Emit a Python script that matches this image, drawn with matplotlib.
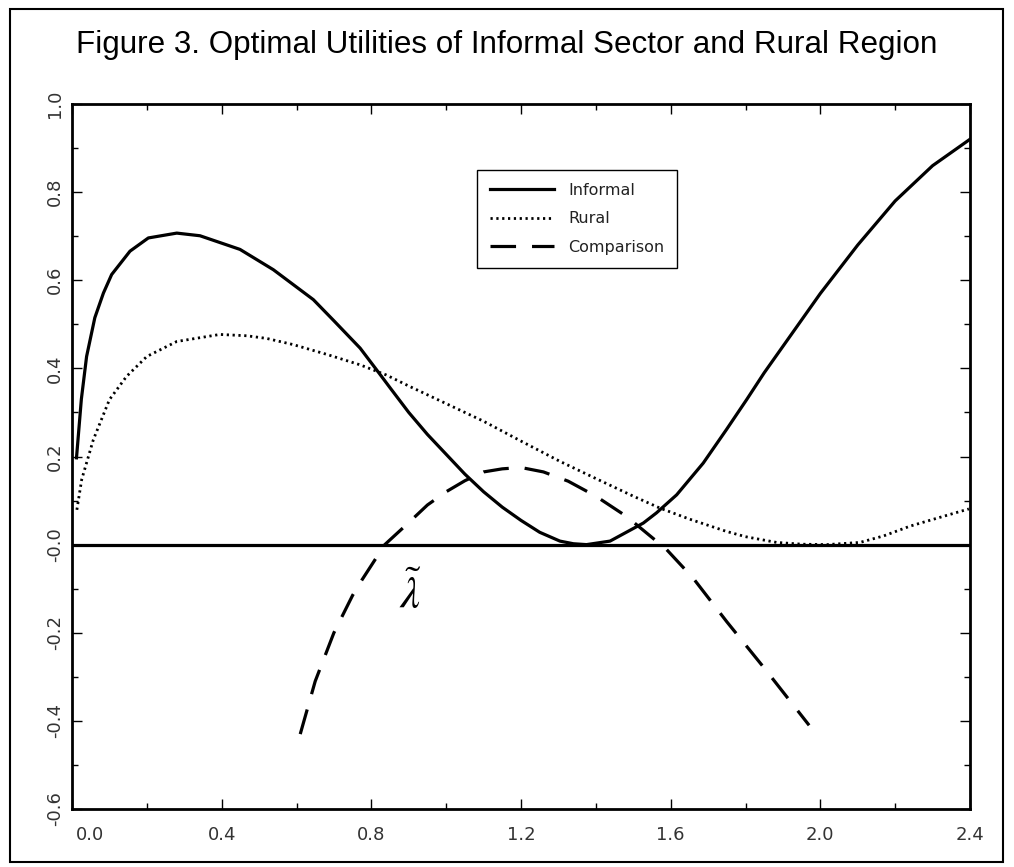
import numpy as np
import matplotlib
matplotlib.use('Agg')
import matplotlib.pyplot as plt
import matplotlib.transforms as mtransforms
from matplotlib.patches import Rectangle

# values
informal_x = [0.012, 0.025, 0.039, 0.061, 0.084, 0.106, 0.155, 0.204, 0.28, 0.342,
              0.449, 0.538, 0.645, 0.7, 0.77, 0.82, 0.85, 0.9, 0.95, 1.0,
              1.05, 1.1, 1.15, 1.2, 1.25, 1.304, 1.34, 1.375, 1.438, 1.527,
              1.562, 1.616, 1.687, 1.749, 1.803, 1.85, 1.9, 1.95, 2.0, 2.05,
              2.1, 2.15, 2.2, 2.25, 2.3, 2.35, 2.4]
informal_y = [0.197, 0.33, 0.427, 0.515, 0.571, 0.613, 0.666, 0.696, 0.707, 0.701,
              0.670, 0.624, 0.556, 0.508, 0.446, 0.39, 0.356, 0.30, 0.25, 0.205,
              0.16, 0.12, 0.085, 0.055, 0.028, 0.008, 0.002, 0.0, 0.008, 0.049,
              0.072, 0.113, 0.185, 0.261, 0.329, 0.39, 0.45, 0.51, 0.57, 0.625,
              0.68, 0.73, 0.78, 0.82, 0.86, 0.89, 0.92]

rural_x = [0.013, 0.026, 0.057, 0.10, 0.146, 0.2, 0.28, 0.395, 0.467, 0.52,
           0.591, 0.68, 0.77, 0.84, 0.9, 1.0, 1.1, 1.2, 1.304, 1.4,
           1.5, 1.571, 1.65, 1.749, 1.8, 1.883, 1.95, 2.017, 2.106, 2.17,
           2.24, 2.32, 2.397]
rural_y = [0.079, 0.148, 0.238, 0.329, 0.382, 0.427, 0.461, 0.477, 0.474, 0.468,
           0.454, 0.432, 0.408, 0.385, 0.36, 0.32, 0.28, 0.235, 0.189, 0.15,
           0.11, 0.083, 0.058, 0.030, 0.018, 0.005, 0.001, 0.0, 0.005, 0.02,
           0.042, 0.062, 0.081]

comp_x = [0.61, 0.65, 0.7, 0.75, 0.775, 0.836, 0.9, 0.95, 1.0, 1.05,
          1.1, 1.15, 1.2, 1.26, 1.326, 1.4, 1.482, 1.589, 1.66, 1.75,
          1.85, 1.97]
comp_y = [-0.43, -0.31, -0.2, -0.115, -0.08, 0.0, 0.05, 0.09, 0.12, 0.145,
          0.165, 0.172, 0.175, 0.165, 0.144, 0.11, 0.064, -0.011, -0.076, -0.175,
          -0.28, -0.41]

xticks = [0.0, 0.4, 0.8, 1.2, 1.6, 2.0, 2.4]
xticklabels = ['0.0', '0.4', '0.8', '1.2', '1.6', '2.0', '2.4']
yticks = [-0.6, -0.4, -0.2, 0.0, 0.2, 0.4, 0.6, 0.8, 1.0]
yticklabels = ['-0.6', '-0.4', '-0.2', '-0.0', '0.2', '0.4', '0.6', '0.8', '1.0']

W, H = 1014, 867
fig = plt.figure(figsize=(W/100, H/100), dpi=100)
ax = fig.add_axes([72/W, 1-809/H, (970-72)/W, (809-104)/H])

ax.plot(informal_x, informal_y, color='black', lw=2.3, label='Informal')
ax.plot(rural_x, rural_y, color='black', lw=2.0, linestyle=(0, (0.8, 1.3)), label='Rural')
ax.plot(comp_x, comp_y, color='black', lw=2.3, linestyle=(0, (8, 5)), label='Comparison')
ax.axhline(0.0, color='black', lw=2.3)

ax.text(0.903, -0.115, r'$\tilde{\lambda}$', fontsize=32, ha='center', va='center',
        math_fontfamily='stix')

ax.set_xlim(0, 2.4)
ax.set_ylim(-0.6, 1.0)
ax.set_xticks(xticks)
ax.set_xticks(np.arange(0.2, 2.4, 0.4), minor=True)
ax.set_xticklabels(xticklabels, fontsize=13, color='#333333')
ax.set_yticks(yticks)
ax.set_yticks(np.arange(-0.5, 1.0, 0.2), minor=True)
ax.set_yticklabels(yticklabels, fontsize=13, color='#333333', rotation=90, va='center')

ax.tick_params(which='both', direction='in', top=True, right=True, width=1.0)
ax.tick_params(which='major', length=7)
ax.tick_params(which='minor', length=4.5)
ax.tick_params(axis='x', pad=12)
ax.tick_params(axis='y', pad=6)
for s in ax.spines.values():
    s.set_linewidth(2.0)

# first x label sits a little to the right in the original
lab0 = ax.get_xticklabels()[0]
lab0.set_transform(lab0.get_transform() + mtransforms.ScaledTranslation(0.18, 0, fig.dpi_scale_trans))

leg = ax.legend(loc='upper left', bbox_to_anchor=(477/W, 1-170/H), bbox_transform=fig.transFigure,
                fancybox=False, framealpha=1, edgecolor='black', fontsize=11.5,
                handlelength=4.0, handletextpad=0.9, labelspacing=0.85, borderpad=0.8,
                borderaxespad=0)
leg.get_frame().set_linewidth(1.0)
for t in leg.get_texts():
    t.set_color('#222222')

fig.text(0.5, 1-45/H, 'Figure 3. Optimal Utilities of Informal Sector and Rural Region',
         ha='center', va='center', fontsize=22.6, family=['Liberation Sans', 'DejaVu Sans'])

fig.patches.append(Rectangle((10/W, 5/H), (1003-10)/W, (H-14)/H, transform=fig.transFigure,
                             fill=False, edgecolor='black', lw=1.5))

fig.savefig('out.png', dpi=100)
